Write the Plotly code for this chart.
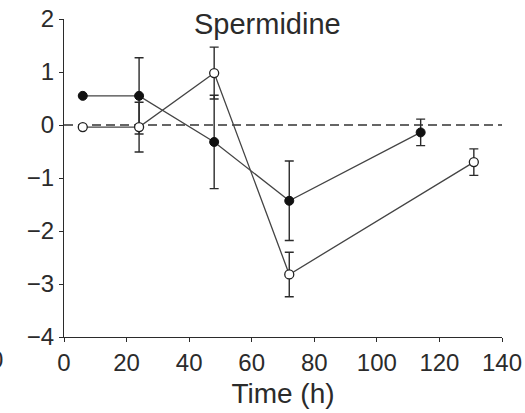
import plotly.graph_objects as go

# Data
time_filled = [6, 24, 48, 72, 114]
val_filled = [0.55, 0.55, -0.32, -1.43, -0.14]
err_filled = [0, 0.72, 0.88, 0.75, 0.25]

time_open = [6, 24, 48, 72, 131]
val_open = [-0.04, -0.04, 0.98, -2.82, -0.70]
err_open = [0, 0.47, 0.49, 0.42, 0.25]

x_ticks = [0, 20, 40, 60, 80, 100, 120, 140]
y_ticks = [2, 1, 0, -1, -2, -3, -4]
y_ticktext = ["2", "1", "0", "\u22121", "\u22122", "\u22123", "\u22124"]

font_family = "Liberation Sans, Arial, sans-serif"
ink = "#2b2b2b"

fig = go.Figure()

# zero reference line (dashed)
fig.add_trace(go.Scatter(
    x=[0, 140], y=[0, 0], mode="lines",
    line=dict(color="#333333", width=1.3, dash="9px,5px"),
    hoverinfo="skip", showlegend=False))

fig.add_trace(go.Scatter(
    x=time_filled, y=val_filled, mode="lines+markers",
    line=dict(color="#444444", width=1.3),
    marker=dict(symbol="circle", size=9, color="#111111",
                line=dict(color="#111111", width=1)),
    error_y=dict(type="data", array=err_filled, visible=True,
                 color=ink, thickness=1.4, width=4.5),
    showlegend=False))

fig.add_trace(go.Scatter(
    x=time_open, y=val_open, mode="lines+markers",
    line=dict(color="#444444", width=1.3),
    marker=dict(symbol="circle", size=9, color="white",
                line=dict(color="#222222", width=1.3)),
    error_y=dict(type="data", array=err_open, visible=True,
                 color=ink, thickness=1.4, width=4.5),
    showlegend=False))

fig.update_layout(
    width=525, height=413,
    margin=dict(l=64, r=23, t=19, b=76),
    paper_bgcolor="white", plot_bgcolor="white",
    font=dict(family=font_family, color=ink, size=24),
    xaxis=dict(range=[0, 140], tickvals=x_ticks, ticks="outside",
               ticklen=4, tickwidth=1.3, tickcolor=ink,
               showline=True, linecolor=ink, linewidth=1.3,
               showgrid=False, zeroline=False, automargin=False,
               tickfont=dict(size=24),
               title=dict(text="Time (h)", font=dict(size=28), standoff=8)),
    yaxis=dict(range=[-4, 2], tickvals=y_ticks, ticktext=y_ticktext,
               ticks="outside", ticklen=4, tickwidth=1.3, tickcolor=ink,
               showline=True, linecolor=ink, linewidth=1.3,
               showgrid=False, zeroline=False, automargin=False,
               tickfont=dict(size=24)),
    annotations=[
        dict(text="Spermidine", x=0.465, y=0.985, xref="paper", yref="paper",
             showarrow=False, font=dict(size=29, color=ink),
             xanchor="center", yanchor="middle"),
        dict(text="0", x=-0.155, y=-0.07, xref="paper", yref="paper",
             showarrow=False, font=dict(size=24, color=ink),
             xanchor="center", yanchor="middle"),
    ],
)

fig.write_html("out.html", config={"displayModeBar": False},
               post_script="document.body.style.margin='0';document.body.style.overflow='hidden';")
